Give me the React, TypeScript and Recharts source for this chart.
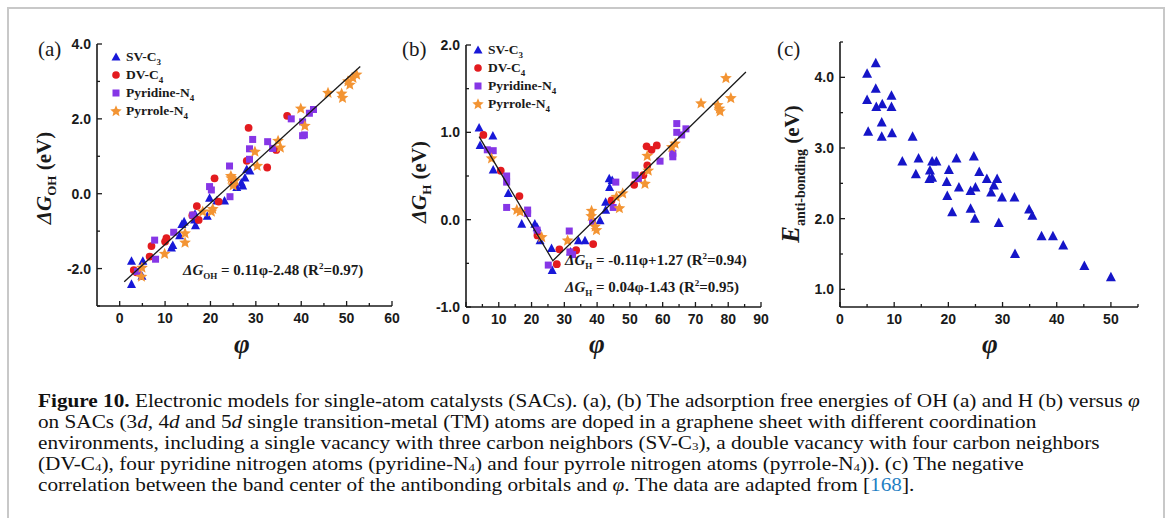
import React from "react";
import { ScatterChart, Scatter, XAxis, YAxis, Legend } from "recharts";

type Pt = [number, number];

// ---- panel (a): dG_OH vs phi ----
const aSV: Pt[] = [
  [2.6, -1.8], [2.6, -2.42], [5.1, -1.8], [4.9, -2.2], [11.4, -1.45], [11.7, -1.38],
  [13.2, -1.12], [13.7, -0.82], [14.2, -0.75], [16.5, -0.7], [16.7, -0.85], [16.6, -0.55],
  [19.3, -0.6], [19.8, -0.12], [21.4, -0.19], [23.1, -0.19], [25.8, 0.17], [26.8, 0.29],
  [27.1, 0.21], [27.6, 0.42], [28.0, 0.65], [28.7, 0.61],
];
const aDV: Pt[] = [
  [3.1, -2.04], [3.7, -2.1], [6.6, -1.68], [7.0, -1.4], [10.0, -1.28], [10.3, -1.19],
  [16.0, -0.58], [17.0, -0.33], [17.4, -0.7], [20.9, 0.41], [21.8, -0.21], [25.1, 0.26],
  [28.0, 0.88], [28.4, 1.76], [32.5, 0.7], [34.5, 1.17], [36.9, 2.08],
];
const aPyridine: Pt[] = [
  [3.9, -2.08], [7.7, -1.24], [7.9, -1.75], [11.9, -1.03], [16.1, -0.57], [19.8, 0.19],
  [20.2, 0.1], [24.2, 0.74], [24.3, -0.08], [28.6, 0.92], [28.6, 1.2], [29.3, 1.45],
  [32.6, 1.39], [33.7, 1.21], [37.8, 2.0], [40.3, 1.92], [40.7, 1.57], [40.3, 1.55],
  [41.8, 2.15], [42.7, 2.25],
];
const aPyrrole: Pt[] = [
  [4.8, -2.22], [4.9, -1.98], [9.9, -1.61], [14.4, -1.06], [14.4, -1.31], [18.3, -0.48],
  [20.2, -0.48], [20.5, -0.41], [24.6, 0.41], [24.5, 0.47], [25.4, 0.35], [25.0, 0.22],
  [29.8, 1.12], [30.3, 0.74], [34.9, 1.41], [35.4, 1.23], [39.9, 2.27], [40.8, 1.81],
  [45.9, 2.69], [48.9, 2.67], [49.1, 2.56], [50.3, 3.0], [50.7, 2.91], [51.4, 3.09], [52.2, 3.18],
];
const aFit: Pt[] = [[1, -2.35], [53, 3.4]];

// ---- panel (b): dG_H vs phi ----
const bSV: Pt[] = [
  [4.0, 1.05], [4.3, 0.85], [8.2, 0.96], [8.3, 0.57], [12.9, 0.3], [17.0, -0.05],
  [21.0, -0.05], [21.7, -0.09], [22.6, -0.24], [26.1, -0.33], [26.3, -0.58], [31.9, -0.37],
  [34.3, -0.24], [36.3, -0.24], [40.9, -0.01], [42.6, 0.11], [42.6, 0.2], [43.7, 0.47],
  [43.8, 0.37], [44.6, 0.45],
];
const bDV: Pt[] = [
  [5.3, 0.97], [10.6, 0.56], [16.3, 0.27], [21.8, -0.18], [27.7, -0.51], [28.5, -0.34],
  [33.6, -0.35], [38.8, -0.28], [44.4, 0.22], [51.3, 0.4], [54.1, 0.51], [55.3, 0.62],
  [55.1, 0.84], [56.6, 0.8], [58.2, 0.85],
];
const bPyridine: Pt[] = [
  [6.5, 0.8], [8.3, 0.79], [12.4, 0.5], [12.4, 0.43], [12.4, 0.14], [18.8, 0.11],
  [18.8, 0.07], [21.7, -0.12], [25.1, -0.52], [31.5, -0.13], [31.7, -0.37], [32.5, -0.4],
  [38.6, -0.02], [44.9, 0.14], [45.7, 0.43], [51.6, 0.51], [52.6, 0.47], [59.2, 0.67],
  [63.1, 0.76], [63.1, 0.72], [64.3, 1.1], [64.3, 1.0], [65.8, 0.97], [67.1, 1.04],
];
const bPyrrole: Pt[] = [
  [7.8, 0.7], [15.5, 0.11], [16.5, 0.09], [23.1, -0.2], [31.0, -0.24], [38.3, 0.1],
  [38.2, 0.04], [39.4, -0.08], [39.8, -0.12], [45.9, 0.26], [47.8, 0.3], [46.8, 0.13],
  [54.6, 0.41], [55.6, 0.56], [55.3, 0.73], [62.8, 0.83], [63.8, 0.87], [71.7, 1.33],
  [76.8, 1.31], [77.3, 1.27], [77.5, 1.24], [79.3, 1.62], [80.8, 1.39],
];
const bFit: Pt[] = [[4.0, 0.95], [26.5, -0.47], [85.4, 1.69]];

// ---- panel (c): E anti-bonding vs phi ----
const cPts: Pt[] = [
  [5.0, 4.05], [6.6, 4.2], [5.0, 3.68], [6.6, 3.84], [6.7, 3.58], [5.2, 3.23], [7.7, 3.36],
  [7.8, 3.62], [7.7, 3.16], [9.5, 3.74], [9.5, 3.58], [9.6, 3.21], [13.4, 3.16], [11.5, 2.81],
  [14.0, 2.63], [14.5, 2.85], [16.6, 2.68], [17.0, 2.81], [17.8, 2.81], [16.5, 2.56],
  [17.0, 2.58], [21.5, 2.85], [20.1, 2.69], [19.7, 2.52], [19.8, 2.32], [20.7, 2.09],
  [21.95, 2.44], [24.7, 2.88], [25.7, 2.66], [24.1, 2.39], [25.0, 2.44], [24.1, 2.14],
  [24.9, 2.0], [27.1, 2.56], [27.9, 2.37], [28.4, 2.47], [29.0, 2.56], [29.9, 2.3],
  [29.3, 1.94], [32.2, 2.3], [32.3, 1.5], [34.9, 2.13], [35.5, 2.04], [37.2, 1.75],
  [39.3, 1.75], [41.2, 1.62], [45.1, 1.33], [50.0, 1.17],
];

// ---- ticks ----
const aXTicks = [0, 5, 10, 15, 20, 25, 30, 35, 40, 45, 50, 55, 60];
const aXLabels = [0, 10, 20, 30, 40, 50, 60];
const aYTicks = [-3, -2, -1, 0, 1, 2, 3, 4];
const aYLabels = [-2, 0, 2, 4];
const bXTicks = [0, 5, 10, 15, 20, 25, 30, 35, 40, 45, 50, 55, 60, 65, 70, 75, 80, 85, 90];
const bXLabels = [0, 10, 20, 30, 40, 50, 60, 70, 80, 90];
const bYTicks = [-1, -0.5, 0, 0.5, 1, 1.5, 2];
const bYLabels = [-1, 0, 1, 2];
const cXTicks = [0, 5, 10, 15, 20, 25, 30, 35, 40, 45, 50, 55];
const cXLabels = [0, 10, 20, 30, 40, 50];
const cYTicks = [1, 1.5, 2, 2.5, 3, 3.5, 4, 4.5];
const cYLabels = [1, 2, 3, 4];

const BLUE = "#1818d8";
const RED = "#e31b1f";
const PURPLE = "#8636e6";
const ORANGE = "#f39433";
const INK = "#1a1a1a";
const SERIF = "'Liberation Serif', 'Times New Roman', serif";
const SANS = "'Liberation Sans', Arial, sans-serif";

const toObj = (p: Pt[]) => p.map(([x, y]) => ({ x, y }));

const triangle = (w: number) => (p: any) => {
  const { cx, cy, fill } = p;
  return (
    <polygon
      points={`${cx},${cy - w * 0.55} ${cx - w / 2},${cy + w * 0.4} ${cx + w / 2},${cy + w * 0.4}`}
      fill={fill}
    />
  );
};
const circle = (r: number) => (p: any) => <circle cx={p.cx} cy={p.cy} r={r} fill={p.fill} />;
const square = (s: number) => (p: any) => (
  <rect x={p.cx - s / 2} y={p.cy - s / 2} width={s} height={s} fill={p.fill} />
);
const starPoints = (cx: number, cy: number, ro: number, ri: number) => {
  const pts: string[] = [];
  for (let i = 0; i < 10; i++) {
    const r = i % 2 === 0 ? ro : ri;
    const a = -Math.PI / 2 + (i * Math.PI) / 5;
    pts.push(`${cx + r * Math.cos(a)},${cy + r * Math.sin(a)}`);
  }
  return pts.join(" ");
};
const star = (ro: number) => (p: any) => (
  <polygon points={starPoints(p.cx, p.cy, ro, ro * 0.45)} fill={p.fill} />
);
const noDot = () => <g />;

const fmt1 = (v: number) => v.toFixed(1);
const fmt0 = (v: number) => String(v);

const xTick = (labels: number[], fmt: (v: number) => string) => (props: any) => {
  const { x, y, payload } = props;
  const major = labels.includes(payload.value);
  return (
    <g>
      <line x1={x} y1={y} x2={x} y2={y - (major ? 5 : 3)} stroke={INK} strokeWidth={1.3} />
      {major && (
        <text x={x} y={y + 17} textAnchor="middle" fontFamily={SANS} fontWeight="bold" fontSize={14} fill={INK}>
          {fmt(payload.value)}
        </text>
      )}
    </g>
  );
};
const yTick = (labels: number[], fmt: (v: number) => string) => (props: any) => {
  const { x, y, payload } = props;
  const major = labels.includes(payload.value);
  return (
    <g>
      <line x1={x} y1={y} x2={x + (major ? 5 : 3)} y2={y} stroke={INK} strokeWidth={1.3} />
      {major && (
        <text x={x - 6} y={y + 5} textAnchor="end" fontFamily={SANS} fontWeight="bold" fontSize={14} fill={INK}>
          {fmt(payload.value)}
        </text>
      )}
    </g>
  );
};

const subFlat: React.CSSProperties = { lineHeight: 0 };

const legendItems = [
  { label: "SV-C", sub: "3", icon: <polygon points="6,1.5 1.5,9.5 10.5,9.5" fill={BLUE} /> },
  { label: "DV-C", sub: "4", icon: <circle cx={6} cy={6} r={3.8} fill={RED} /> },
  { label: "Pyridine-N", sub: "4", icon: <rect x={2.5} y={2.5} width={7} height={7} fill={PURPLE} /> },
  { label: "Pyrrole-N", sub: "4", icon: <polygon points={starPoints(6, 6.3, 6, 2.7)} fill={ORANGE} /> },
];

const LegendBox = () => (
  <div style={{ fontFamily: SERIF, fontWeight: "bold", fontSize: 13.5, color: INK, lineHeight: "18px" }}>
    {legendItems.map((it) => (
      <div key={it.label} style={{ display: "flex", alignItems: "center", whiteSpace: "nowrap", height: 18 }}>
        <svg width={12} height={12} style={{ marginRight: 4 }}>
          {it.icon}
        </svg>
        <span>
          {it.label}
          <sub style={{ fontSize: 9, ...subFlat }}>{it.sub}</sub>
        </span>
      </div>
    ))}
  </div>
);

interface SeriesDef {
  name: string;
  data: Pt[];
  fill: string;
  shape: any;
}

interface PanelProps {
  left: number;
  top: number;
  width: number;
  height: number;
  margin: { top: number; right: number; bottom: number; left: number };
  xDomain: [number, number];
  yDomain: [number, number];
  xTicks: number[];
  xLabels: number[];
  yTicks: number[];
  yLabels: number[];
  series: SeriesDef[];
  fit?: Pt[];
  legendPos?: { left: number; top: number };
}

function Panel(p: PanelProps) {
  const axisLine = { stroke: INK, strokeWidth: 1.6 };
  return (
    <div style={{ position: "absolute", left: p.left, top: p.top }}>
      <ScatterChart width={p.width} height={p.height} margin={p.margin}>
        <XAxis
          type="number"
          dataKey="x"
          domain={p.xDomain}
          ticks={p.xTicks}
          interval={0}
          allowDataOverflow
          height={22}
          tickSize={0}
          tickMargin={0}
          tickLine={false}
          axisLine={axisLine}
          tick={xTick(p.xLabels, fmt0)}
        />
        <YAxis
          type="number"
          dataKey="y"
          domain={p.yDomain}
          ticks={p.yTicks}
          interval={0}
          allowDataOverflow
          width={60}
          tickSize={0}
          tickMargin={0}
          tickLine={false}
          axisLine={axisLine}
          tick={yTick(p.yLabels, fmt1)}
        />
        <XAxis
          xAxisId="top"
          orientation="top"
          type="number"
          domain={p.xDomain}
          allowDataOverflow
          height={0}
          tick={false}
          tickLine={false}
          axisLine={axisLine}
        />
        <YAxis
          yAxisId="right"
          orientation="right"
          type="number"
          domain={p.yDomain}
          allowDataOverflow
          width={0}
          tick={false}
          tickLine={false}
          axisLine={axisLine}
        />
        {p.series.map((s) => (
          <Scatter
            key={s.name}
            name={s.name}
            data={toObj(s.data)}
            fill={s.fill}
            shape={s.shape}
            isAnimationActive={false}
          />
        ))}
        {p.fit && (
          <Scatter
            name="fit"
            data={toObj(p.fit)}
            line={{ stroke: INK, strokeWidth: 1.3 }}
            shape={noDot}
            legendType="none"
            isAnimationActive={false}
          />
        )}
        {p.legendPos && (
          <Legend
            layout="vertical"
            align="center"
            verticalAlign="middle"
            content={LegendBox}
            wrapperStyle={{ left: p.legendPos.left, top: p.legendPos.top, width: "auto", height: "auto" }}
          />
        )}
      </ScatterChart>
    </div>
  );
}

const abs = (left: number, top: number, extra: React.CSSProperties = {}): React.CSSProperties => ({
  position: "absolute",
  left,
  top,
  whiteSpace: "nowrap",
  ...extra,
});

const YLabel = ({ cx, cy, children }: { cx: number; cy: number; children: React.ReactNode }) => (
  <div
    style={{
      position: "absolute",
      left: cx,
      top: cy,
      transform: "translate(-50%, -50%) rotate(-90deg)",
      whiteSpace: "nowrap",
      fontFamily: SERIF,
      fontWeight: "bold",
      fontSize: 21,
      color: INK,
      lineHeight: 1,
    }}
  >
    {children}
  </div>
);

const Phi = ({ cx }: { cx: number }) => (
  <div
    style={{
      position: "absolute",
      left: cx,
      top: 344,
      transform: "translate(-50%, -50%)",
      fontFamily: SERIF,
      fontWeight: "bold",
      fontStyle: "italic",
      fontSize: 27,
      color: INK,
      lineHeight: 1,
    }}
  >
    φ
  </div>
);

const eqStyle: React.CSSProperties = {
  fontFamily: SERIF,
  fontWeight: "bold",
  fontSize: 15,
  color: INK,
  lineHeight: 1,
};

const capSub: React.CSSProperties = { fontSize: 11, lineHeight: 0, verticalAlign: "-1px" };
const capLine: React.CSSProperties = { height: 21, lineHeight: "21px" };

export default function App() {
  const seriesA: SeriesDef[] = [
    { name: "SV-C3", data: aSV, fill: BLUE, shape: triangle(9) },
    { name: "DV-C4", data: aDV, fill: RED, shape: circle(3.9) },
    { name: "Pyridine-N4", data: aPyridine, fill: PURPLE, shape: square(7) },
    { name: "Pyrrole-N4", data: aPyrrole, fill: ORANGE, shape: star(6.2) },
  ];
  const seriesB: SeriesDef[] = [
    { name: "SV-C3", data: bSV, fill: BLUE, shape: triangle(9) },
    { name: "DV-C4", data: bDV, fill: RED, shape: circle(3.9) },
    { name: "Pyridine-N4", data: bPyridine, fill: PURPLE, shape: square(7) },
    { name: "Pyrrole-N4", data: bPyrrole, fill: ORANGE, shape: star(6.2) },
  ];
  const seriesC: SeriesDef[] = [{ name: "E", data: cPts, fill: "#1515c8", shape: triangle(10) }];

  return (
    <div
      style={{
        position: "absolute",
        left: 0,
        top: 0,
        width: 1167,
        height: 518,
        overflow: "hidden",
        background: "#fff",
        fontFamily: SERIF,
      }}
    >
      <div
        style={{
          position: "absolute",
          left: 7,
          top: 7,
          width: 1154,
          height: 600,
          border: "2px solid #c8c8c8",
        }}
      />

      <Panel
        left={37}
        top={28}
        width={370}
        height={300}
        margin={{ top: 16, right: 15, bottom: 0, left: 0 }}
        xDomain={[-5, 60]}
        yDomain={[-3, 4]}
        xTicks={aXTicks}
        xLabels={aXLabels}
        yTicks={aYTicks}
        yLabels={aYLabels}
        series={seriesA}
        fit={aFit}
        legendPos={{ left: 73, top: 20 }}
      />
      <Panel
        left={406}
        top={28}
        width={370}
        height={301}
        margin={{ top: 17, right: 15, bottom: 0, left: 0 }}
        xDomain={[0, 90]}
        yDomain={[-1, 2]}
        xTicks={bXTicks}
        xLabels={bXLabels}
        yTicks={bYTicks}
        yLabels={bYLabels}
        series={seriesB}
        fit={bFit}
        legendPos={{ left: 66, top: 13 }}
      />
      <Panel
        left={780}
        top={26}
        width={373}
        height={303}
        margin={{ top: 16, right: 15, bottom: 0, left: 0 }}
        xDomain={[0, 55]}
        yDomain={[0.75, 4.5]}
        xTicks={cXTicks}
        xLabels={cXLabels}
        yTicks={cYTicks}
        yLabels={cYLabels}
        series={seriesC}
      />

      {/* panel letters */}
      <div style={abs(38, 37, { fontFamily: SERIF, fontSize: 21, color: INK })}>(a)</div>
      <div style={abs(402, 37, { fontFamily: SERIF, fontSize: 21, color: INK })}>(b)</div>
      <div style={abs(777, 37, { fontFamily: SERIF, fontSize: 21, color: INK })}>(c)</div>

      {/* axis titles */}
      <YLabel cx={46} cy={178}>
        <i>ΔG</i>
        <sub style={{ fontSize: 13 }}>OH</sub> (eV)
      </YLabel>
      <YLabel cx={421} cy={182}>
        <i>ΔG</i>
        <sub style={{ fontSize: 13 }}>H</sub> (eV)
      </YLabel>
      <YLabel cx={793} cy={174}>
        <i style={{ fontSize: 25 }}>E</i>
        <sub style={{ fontSize: 14 }}>anti-bonding</sub> (eV)
      </YLabel>
      <Phi cx={242} />
      <Phi cx={597} />
      <Phi cx={990} />

      {/* fit equations */}
      <div style={abs(183, 262, eqStyle)}>
        <i>ΔG</i>
        <sub style={{ fontSize: 9 }}>OH</sub> = 0.11φ-2.48 (R<sup style={{ fontSize: 9 }}>2</sup>=0.97)
      </div>
      <div style={abs(565, 252, eqStyle)}>
        <i>ΔG</i>
        <sub style={{ fontSize: 9 }}>H</sub> = -0.11φ+1.27 (R<sup style={{ fontSize: 9 }}>2</sup>=0.94)
      </div>
      <div style={abs(565, 279, eqStyle)}>
        <i>ΔG</i>
        <sub style={{ fontSize: 9 }}>H</sub> = 0.04φ-1.43 (R<sup style={{ fontSize: 9 }}>2</sup>=0.95)
      </div>

      {/* caption */}
      <div
        style={{
          position: "absolute",
          left: 38,
          top: 391,
          fontFamily: SERIF,
          fontSize: 18,
          color: "#111",
          whiteSpace: "nowrap",
          transform: "scaleX(1.18)",
          transformOrigin: "0 0",
        }}
      >
        <div style={capLine}>
          <b>Figure 10.</b> Electronic models for single-atom catalysts (SACs). (a), (b) The adsorption free
          energies of OH (a) and H (b) versus <i>φ</i>
        </div>
        <div style={capLine}>
          on SACs (3<i>d</i>, 4<i>d</i> and 5<i>d</i> single transition-metal (TM) atoms are doped in a graphene
          sheet with different coordination
        </div>
        <div style={capLine}>
          environments, including a single vacancy with three carbon neighbors (SV-C<sub style={capSub}>3</sub>), a
          double vacancy with four carbon neighbors
        </div>
        <div style={capLine}>
          (DV-C<sub style={capSub}>4</sub>), four pyridine nitrogen atoms (pyridine-N<sub style={capSub}>4</sub>) and
          four pyrrole nitrogen atoms (pyrrole-N<sub style={capSub}>4</sub>)). (c) The negative
        </div>
        <div style={capLine}>
          correlation between the band center of the antibonding orbitals and <i>φ</i>. The data are adapted from [
          <span style={{ color: "#1f7fc4" }}>168</span>].
        </div>
      </div>
    </div>
  );
}
